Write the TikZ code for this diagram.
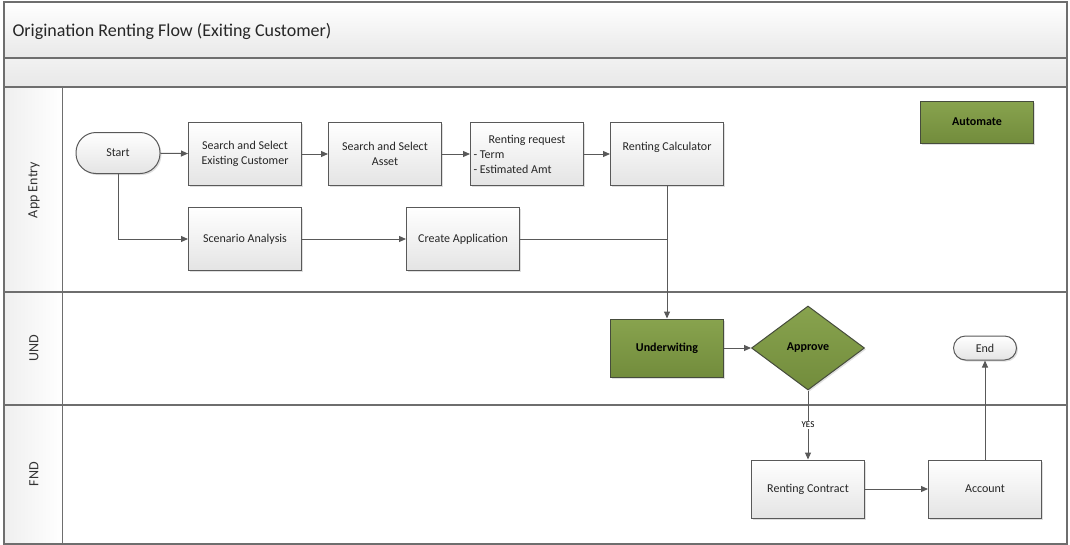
\documentclass[tikz,border=0pt]{standalone}
\usepackage{fontspec}
\setmainfont{Carlito}
\usetikzlibrary{arrows.meta, positioning, shadows, shapes.geometric}
\definecolor{lnline}{RGB}{89, 89, 89}
\definecolor{lnframe}{RGB}{110, 110, 110}
\definecolor{lnbox}{RGB}{228, 228, 228}
\definecolor{lnband}{RGB}{232, 232, 232}
\definecolor{lnolive}{RGB}{136, 163, 78}
\definecolor{lnolivedk}{RGB}{114, 140, 60}
\definecolor{lnedge}{RGB}{70, 76, 60}

\begin{document}
\begin{tikzpicture}[x=1pt, y=-1pt, >={Triangle[length=7pt, width=6pt]},
  procbox/.style={draw=lnline, line width=1pt, top color=white,
    bottom color=lnbox, minimum width=113pt, minimum height=63pt,
    inner sep=2pt, align=center, text=black!85,
    font=\fontsize{12}{15}\selectfont,
    drop shadow={shadow xshift=1.5pt, shadow yshift=-1.5pt, opacity=.25}},
  olivebox/.style={procbox, draw=lnedge, top color=lnolive,
    bottom color=lnolivedk, text=black, font=\fontsize{12}{15}\selectfont\bfseries},
  termbox/.style={procbox, rounded corners=#1, minimum width=2*#1},
  flow/.style={draw=lnline, line width=1pt},
  lanelbl/.style={rotate=90, font=\fontsize{14}{16}\selectfont, text=black!80}]

  \useasboundingbox (0,0) rectangle (1070,544);

  % --- pool frame and header bands ---
  \fill[top color=white, bottom color=lnband] (4,2) rectangle (1067,58);
  \fill[top color=lnband!60, bottom color=lnband] (4,58) rectangle (1067,87);
  \fill[left color=lnband!70, right color=white] (4,87) rectangle (62,544);
  \draw[lnframe, line width=1.2pt] (4,2) rectangle (1067,544);
  \draw[lnframe, line width=1.2pt] (4,58) -- (1067,58);
  \draw[lnframe, line width=1.2pt] (4,87) -- (1067,87);
  \draw[lnframe, line width=1.2pt] (4,292) -- (1067,292);
  \draw[lnframe, line width=1.2pt] (4,405) -- (1067,405);
  \draw[lnframe, line width=1pt] (62,87) -- (62,544);
  \node[anchor=west, font=\fontsize{18}{20}\selectfont, text=black!85]
    (title) at (9,31) {Origination Renting Flow (Exiting Customer)};

  % --- lane labels ---
  \node[lanelbl] (laneapp) at (34,190) {App Entry};
  \node[lanelbl] (laneund) at (34,348) {UND};
  \node[lanelbl] (lanefnd) at (34,474) {FND};

  % --- App Entry lane ---
  \node[termbox=20pt, minimum height=41pt, minimum width=84pt] (start) at (118,153) {Start};
  \node[procbox] (cust) at (245,154) {Search and Select\\Existing Customer};
  \node[procbox] (asset) at (385,154) {Search and Select\\Asset};
  \node[procbox] (req) at (527,154)
    {Renting request\\
     \parbox[t]{107pt}{\raggedright - Term\\- Estimated Amt}};
  \node[procbox, text depth=15pt] (calc) at (667,154) {Renting Calculator};
  \node[procbox] (scen) at (245,239) {Scenario Analysis};
  \node[procbox] (capp) at (463,239) {Create Application};
  \node[olivebox, minimum height=42pt] (auto) at (977,122) {Automate};

  % --- UND lane ---
  \node[olivebox, minimum height=58pt] (uw) at (667,348) {Underwiting};
  \node[olivebox, diamond, minimum width=113pt, minimum height=84pt,
    inner sep=0pt] (appr) at (808,348) {Approve};
  \node[termbox=12pt, minimum height=24pt, minimum width=63pt] (endn) at (985,348) {End};

  % --- FND lane ---
  \node[procbox, minimum height=58pt] (contr) at (808,489) {Renting Contract};
  \node[procbox, minimum height=58pt] (acct) at (985,489) {Account};

  % --- connectors ---
  \draw[flow, ->] (start) -- (cust);
  \draw[flow, ->] (cust) -- (asset);
  \draw[flow, ->] (asset) -- (req);
  \draw[flow, ->] (req) -- (calc);
  \draw[flow, ->] (start.south) |- (scen);
  \draw[flow, ->] (scen) -- (capp);
  \coordinate (merge) at (calc.south |- capp.east);
  \draw[flow] (capp) -- (merge);
  \draw[flow, ->] (calc) -- (uw);
  \draw[flow, ->] (uw) -- (appr);
  \draw[flow, ->] (appr) -- node[fill=white, inner sep=1pt,
    font=\fontsize{9}{10}\selectfont] (yes) {YES} (contr);
  \draw[flow, ->] (contr) -- (acct);
  \draw[flow, ->] (acct) -- (endn);

\end{tikzpicture}
\end{document}
